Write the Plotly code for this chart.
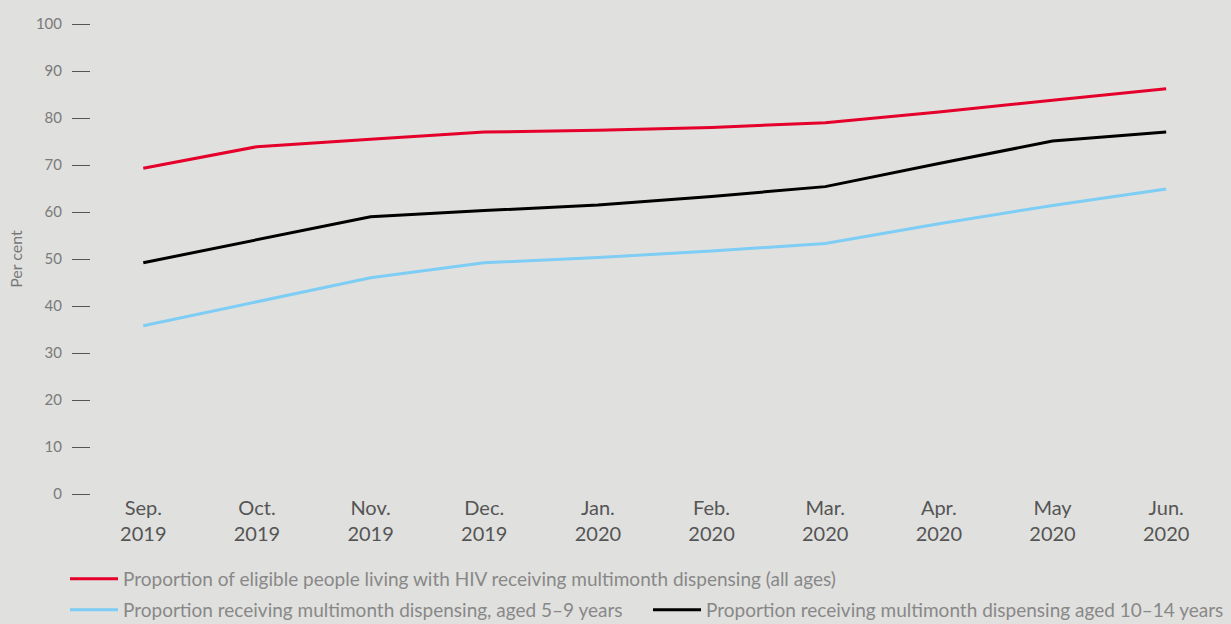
import plotly.graph_objects as go

months = ["Sep.<br>2019", "Oct.<br>2019", "Nov.<br>2019", "Dec.<br>2019", "Jan.<br>2020",
          "Feb.<br>2020", "Mar.<br>2020", "Apr.<br>2020", "May<br>2020", "Jun.<br>2020"]
all_ages = [69.3, 73.9, 75.5, 77.0, 77.4, 78.0, 79.0, 81.3, 83.8, 86.2]
aged_10_14 = [49.2, 54.1, 59.0, 60.3, 61.5, 63.3, 65.4, 70.3, 75.1, 77.0]
aged_5_9 = [35.8, 40.9, 46.0, 49.2, 50.3, 51.7, 53.3, 57.5, 61.4, 64.9]
y_ticks = [0, 10, 20, 30, 40, 50, 60, 70, 80, 90, 100]

names = [
    "Proportion of eligible people living with HIV receiving multimonth dispensing (all ages)",
    "Proportion receiving multimonth dispensing, aged 5\u20139 years",
    "Proportion receiving multimonth dispensing aged 10\u201314 years",
]

BG = "#e0e0de"
FONT = "Lato"

fig = go.Figure()
fig.add_trace(go.Scatter(x=months, y=all_ages, mode="lines", name=names[0],
                         line=dict(color="#e4002b", width=3), legend="legend"))
fig.add_trace(go.Scatter(x=months, y=aged_5_9, mode="lines", name=names[1],
                         line=dict(color="#7dcdf5", width=3), legend="legend2"))
fig.add_trace(go.Scatter(x=months, y=aged_10_14, mode="lines", name=names[2],
                         line=dict(color="#000000", width=3), legend="legend3"))

legend_common = dict(
    orientation="h", xref="container", yref="container",
    xanchor="left", yanchor="middle",
    font=dict(family=FONT, size=19, color="#888888"),
    bgcolor="rgba(0,0,0,0)", borderwidth=0, itemclick=False, itemdoubleclick=False,
    itemwidth=48,
)

fig.update_layout(
    width=1231, height=624,
    paper_bgcolor=BG, plot_bgcolor=BG,
    margin=dict(l=91, r=8, t=24, b=130),
    font=dict(family=FONT, color="#555555"),
    xaxis=dict(
        type="category",
        range=[-0.46, 9.5],
        showgrid=False, zeroline=False, showline=False,
        ticks="", tickfont=dict(family=FONT, size=20, color="#555555"),
        ticklabelstandoff=0,
    ),
    yaxis=dict(
        range=[0, 100], tickvals=y_ticks,
        showgrid=False, zeroline=False, showline=False,
        ticks="outside", ticklen=18, tickwidth=1.2, tickcolor="#555555",
        tickfont=dict(family=FONT, size=15, color="#7a7a7a"),
        ticklabelstandoff=7,
        title=dict(text="Per cent", font=dict(family=FONT, size=16, color="#777777"), standoff=9),
    ),
    legend=dict(x=65 / 1231, y=1 - 579 / 624, **legend_common),
    legend2=dict(x=65 / 1231, y=1 - 610 / 624, **legend_common),
    legend3=dict(x=648 / 1231, y=1 - 610 / 624, **legend_common),
    showlegend=True,
)

fig.write_html("out.html", config={"displayModeBar": False},
               post_script="document.body.style.margin='0';")
